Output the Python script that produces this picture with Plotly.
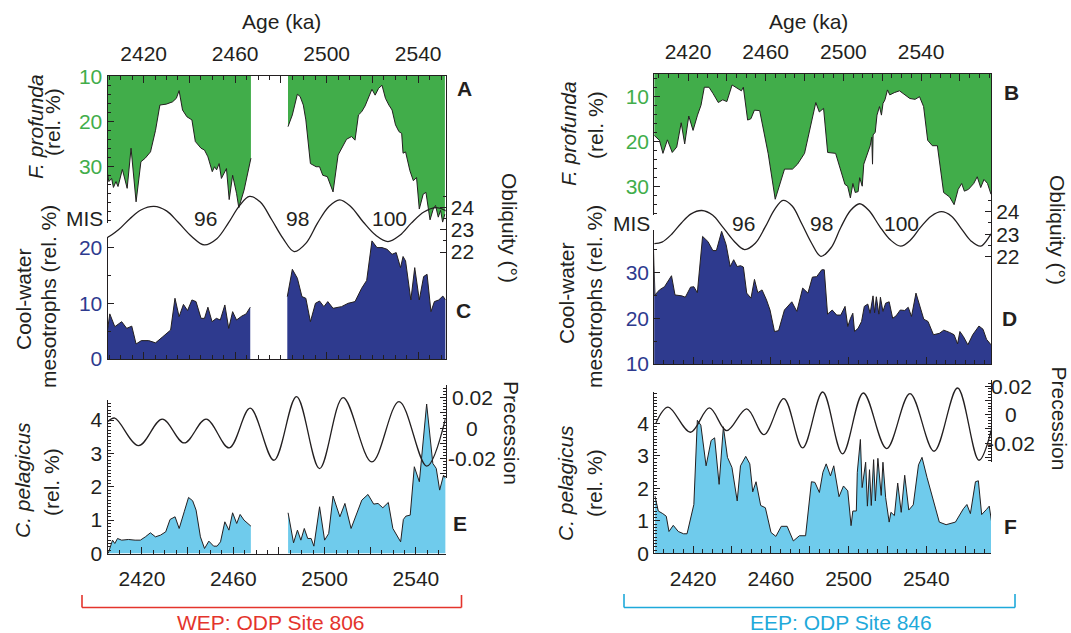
import plotly.graph_objects as go

W, H = 1071, 633
FONT = "Liberation Sans, Arial, Helvetica, sans-serif"
INK = "#231f20"
GREEN = "#41ad4a"
NAVY = "#2e3a8e"
SKY = "#6fcbec"
RED = "#e4342c"
CYAN = "#1ea9da"

# ---------------- data (ka, values) ----------------
age_labels = [2420, 2460, 2500, 2540]
age_major = [2400, 2420, 2440, 2460, 2480, 2500, 2520, 2540, 2560, 2580]

# WEP ODP 806 : F. profunda (rel. %)  (gap 2467-2483 ka)
wep_fp_age_1 = [2404.2, 2404.8, 2406.0, 2406.8, 2407.9, 2408.8, 2410.7, 2411.6, 2412.8, 2414.5,
                2416.7, 2418.8, 2420.7, 2423.0, 2425.2, 2427.1, 2429.9, 2432.6, 2434.3, 2435.5,
                2437.0, 2438.9, 2441.1, 2442.6, 2445.1, 2446.6, 2448.1, 2450.0, 2451.0, 2451.9,
                2453.0, 2454.0, 2455.0, 2456.2, 2457.4, 2458.9, 2460.6, 2461.6, 2463.9, 2465.8, 2466.9]
wep_fp_1 = [31.5, 33.3, 32.6, 34.6, 33.3, 34.4, 30.6, 32.2, 34.8, 25.9,
            37.8, 28.9, 28.1, 26.7, 21.9, 16.3, 16.1, 15.6, 14.8, 13.1,
            17.4, 18.9, 19.6, 24.4, 25.9, 26.3, 27.8, 31.1, 30.0, 30.7,
            29.3, 32.6, 31.5, 30.4, 37.3, 31.9, 35.9, 39.1, 35.2, 30.7, 28.1]
wep_fp_age_2 = [2483.1, 2485.0, 2487.2, 2488.4, 2489.8, 2490.9, 2492.9, 2495.4, 2496.9, 2498.3,
                2500.3, 2502.8, 2505.0, 2507.2, 2508.7, 2510.9, 2512.4, 2513.9, 2515.3, 2516.8,
                2518.3, 2519.8, 2521.2, 2522.7, 2524.2, 2525.7, 2527.2, 2528.6, 2530.1, 2531.6,
                2532.8, 2533.4, 2534.5, 2536.4, 2537.9, 2539.3, 2540.5, 2542.2, 2543.4, 2545.2,
                2546.6, 2547.6, 2548.8, 2549.8, 2550.7, 2551.7]
wep_fp_2 = [21.1, 18.5, 13.9, 14.4, 16.3, 19.6, 29.3, 30.0, 30.0, 31.9,
            32.2, 35.6, 27.4, 25.2, 23.9, 23.3, 24.1, 18.5, 17.8, 16.5,
            14.8, 12.8, 14.1, 12.6, 11.9, 14.8, 16.3, 17.4, 20.7, 22.2,
            22.6, 27.0, 26.7, 30.9, 33.1, 32.4, 39.4, 36.1, 35.7, 41.8,
            39.4, 38.6, 41.2, 39.7, 42.3, 40.5]

# WEP : cool-water mesotrophs (rel. %)
wep_cw_age_1 = [2404.2, 2405.2, 2407.4, 2410.4, 2412.6, 2414.8, 2416.7, 2419.0, 2422.2, 2425.2,
                2428.1, 2431.8, 2433.7, 2435.5, 2437.4, 2439.2, 2441.1, 2442.9, 2445.1, 2446.6,
                2448.1, 2449.9, 2451.8, 2453.5, 2455.5, 2457.2, 2458.9, 2460.6, 2462.9, 2464.8, 2466.6]
wep_cw_1 = [5.2, 8.1, 5.8, 6.7, 5.5, 5.9, 2.7, 3.3, 3.3, 2.9,
            3.9, 5.2, 10.9, 7.6, 9.8, 8.7, 10.6, 10.3, 7.3, 7.3,
            9.3, 6.7, 7.3, 7.0, 9.7, 5.5, 8.5, 7.0, 7.7, 8.1, 9.3]
wep_cw_age_2 = [2482.8, 2485.0, 2487.2, 2489.2, 2490.9, 2492.9, 2495.1, 2496.9, 2498.8, 2500.5,
                2502.8, 2506.5, 2509.4, 2512.4, 2515.3, 2517.5, 2519.8, 2522.0, 2524.2, 2526.4,
                2528.6, 2530.4, 2532.3, 2533.4, 2534.5, 2536.8, 2538.5, 2540.5, 2542.4, 2543.9,
                2545.6, 2547.1, 2549.0, 2550.8, 2552.0]
wep_cw_2 = [11.2, 16.1, 14.5, 11.2, 10.9, 6.7, 10.0, 10.4, 9.4, 10.3,
            9.1, 9.4, 10.0, 10.3, 12.7, 14.1, 21.2, 20.0, 20.0, 19.7,
            18.8, 19.1, 16.4, 18.4, 17.6, 10.6, 16.4, 10.6, 14.8, 15.2,
            8.5, 10.3, 10.6, 11.3, 10.6]

# WEP : C. pelagicus (rel. %)
wep_cp_age_1 = [2405.2, 2406.0, 2407.1, 2408.1, 2409.3, 2411.1, 2414.1, 2417.0, 2419.3, 2421.5,
                2423.7, 2425.9, 2428.1, 2430.4, 2432.3, 2434.5, 2436.3, 2438.5, 2440.4, 2442.2,
                2443.7, 2445.6, 2447.4, 2449.3, 2451.4, 2452.9, 2454.4, 2456.3, 2458.1, 2459.7,
                2461.5, 2463.0, 2464.7, 2467.7]
wep_cp_1 = [0.0, 0.2, 0.4, 0.3, 0.45, 0.4, 0.42, 0.4, 0.4, 0.5,
            0.62, 0.5, 0.55, 0.65, 1.02, 1.1, 0.75, 1.25, 1.68, 1.58,
            1.3, 0.5, 0.15, 0.37, 0.22, 0.22, 0.35, 0.95, 0.7, 1.22,
            0.9, 1.17, 1.0, 0.82]
wep_cp_age_2 = [2484.0, 2486.4, 2488.1, 2489.6, 2491.1, 2492.6, 2494.1, 2495.3, 2497.8, 2500.0,
                2501.8, 2503.7, 2506.7, 2508.9, 2511.6, 2513.6, 2516.3, 2519.0, 2521.5, 2523.4,
                2525.5, 2527.9, 2529.9, 2533.3, 2534.5, 2535.6, 2537.5, 2539.3, 2541.5, 2544.7,
                2547.4, 2548.9, 2550.4, 2552.1, 2553.0]
wep_cp_2 = [1.22, 0.32, 0.7, 0.4, 0.75, 0.45, 0.45, 0.22, 1.4, 0.4,
            0.6, 1.72, 1.1, 1.5, 0.75, 1.1, 1.6, 1.77, 1.48, 1.5,
            1.37, 1.53, 0.75, 0.35, 1.02, 1.12, 1.15, 2.6, 2.15, 4.48,
            2.7, 2.55, 1.9, 2.35, 2.25]

# EEP ODP 846 : F. profunda
eep_fp_age = [2402.6, 2403.6, 2405.3, 2407.1, 2409.4, 2411.9, 2414.2, 2416.5, 2418.3, 2420.4,
              2422.6, 2424.9, 2426.7, 2428.4, 2430.8, 2432.9, 2435.6, 2437.9, 2440.0, 2442.7,
              2445.0, 2447.5, 2448.5, 2450.7, 2452.4, 2454.2, 2456.9, 2461.3, 2464.9, 2466.7,
              2469.7, 2473.8, 2476.4, 2480.0, 2485.8, 2487.6, 2489.8, 2491.9, 2496.0, 2500.8,
              2502.2, 2503.6, 2504.9, 2506.1, 2507.6, 2508.4, 2509.7, 2510.5, 2512.0, 2513.8,
              2514.6, 2515.0, 2515.3, 2516.4, 2517.3, 2518.6, 2519.6, 2520.4, 2521.4, 2522.7,
              2523.9, 2526.2, 2528.9, 2531.6, 2534.2, 2536.9, 2539.2, 2541.3, 2543.4, 2545.8,
              2548.4, 2551.6, 2554.7, 2557.0, 2559.1, 2560.9, 2562.3, 2564.4, 2567.1, 2568.9,
              2570.7, 2572.4, 2574.2, 2576.0]
eep_fp = [18.6, 19.0, 19.7, 22.6, 19.6, 22.4, 21.2, 15.8, 20.5, 14.3,
          17.5, 14.1, 11.9, 7.9, 7.9, 9.3, 11.3, 10.7, 11.1, 7.4,
          8.1, 8.7, 7.9, 15.2, 14.9, 13.0, 13.1, 22.7, 32.8, 30.2,
          26.1, 26.1, 25.0, 22.6, 11.3, 13.4, 12.6, 22.4, 22.6, 29.5,
          29.9, 32.5, 29.3, 31.3, 31.1, 28.0, 29.9, 25.0, 23.1, 20.9,
          19.0, 25.0, 18.5, 17.9, 14.1, 12.2, 14.1, 11.5, 10.7, 8.5,
          9.6, 9.1, 8.7, 9.6, 10.4, 10.6, 10.0, 12.2, 19.7, 20.9,
          20.9, 31.3, 32.3, 34.0, 30.6, 29.3, 31.0, 30.6, 29.3, 27.8,
          30.2, 28.4, 29.3, 31.7]

# EEP : cool-water mesotrophs
eep_cw_age = [2399.6, 2400.4, 2402.7, 2405.3, 2408.9, 2410.7, 2414.2, 2416.0, 2418.7, 2420.4,
              2422.2, 2424.9, 2427.6, 2430.2, 2432.0, 2434.7, 2437.0, 2439.1, 2440.9, 2442.7,
              2444.4, 2445.9, 2447.6, 2449.8, 2451.6, 2453.3, 2455.5, 2457.8, 2459.6, 2461.9,
              2464.0, 2467.0, 2470.8, 2473.4, 2476.4, 2479.1, 2481.4, 2483.6, 2486.2, 2487.5,
              2489.2, 2491.6, 2493.9, 2496.0, 2498.2, 2499.6, 2501.0, 2502.2, 2503.1, 2504.9,
              2506.7, 2508.1, 2509.9, 2511.1, 2512.6, 2513.4, 2514.3, 2515.6, 2516.4, 2517.7,
              2519.1, 2520.9, 2522.7, 2524.4, 2526.6, 2528.9, 2530.7, 2532.4, 2534.7, 2536.9,
              2538.7, 2540.9, 2543.7, 2546.7, 2549.0, 2552.0, 2554.3, 2556.1, 2557.3, 2559.1,
              2561.4, 2563.9, 2567.1, 2569.2, 2571.0, 2573.3]
eep_cw = [35.7, 25.1, 26.2, 26.9, 29.3, 25.1, 24.9, 24.6, 26.8, 26.9,
          25.6, 37.9, 36.8, 34.8, 34.8, 39.0, 36.1, 31.3, 32.8, 31.3,
          31.5, 31.2, 25.5, 24.4, 28.5, 25.6, 26.2, 24.0, 21.8, 17.1,
          17.3, 21.8, 23.6, 21.5, 26.6, 25.5, 29.0, 29.1, 30.6, 30.6,
          20.9, 21.8, 20.7, 20.7, 22.6, 18.2, 20.0, 21.1, 17.1, 17.8,
          19.3, 22.6, 23.1, 21.1, 24.9, 21.2, 24.7, 20.9, 24.6, 21.5,
          23.3, 23.6, 20.0, 20.5, 21.8, 21.7, 22.4, 20.4, 25.5, 22.6,
          19.8, 19.3, 16.4, 16.7, 17.4, 16.9, 16.4, 14.4, 17.1, 16.0,
          14.2, 16.4, 18.3, 17.6, 15.4, 14.2]

# EEP : C. pelagicus
eep_cp_age = [2400.4, 2402.1, 2404.4, 2406.2, 2407.6, 2409.8, 2412.4, 2415.1, 2416.9, 2420.4,
              2422.2, 2424.0, 2426.7, 2429.3, 2431.1, 2433.4, 2435.6, 2437.7, 2440.0, 2442.7,
              2444.4, 2447.1, 2449.2, 2450.7, 2452.4, 2454.8, 2457.2, 2460.1, 2462.6, 2465.4,
              2468.4, 2471.6, 2474.7, 2477.9, 2480.9, 2482.7, 2485.0, 2486.8, 2488.5, 2490.7,
              2492.4, 2495.1, 2497.4, 2499.6, 2501.3, 2502.2, 2504.0, 2504.5, 2506.1, 2507.0,
              2508.8, 2509.7, 2510.8, 2511.7, 2512.9, 2513.8, 2515.1, 2516.8, 2517.7, 2519.1,
              2520.9, 2521.8, 2523.6, 2525.3, 2527.1, 2528.9, 2531.0, 2533.3, 2536.0, 2537.8,
              2540.4, 2543.1, 2546.7, 2550.2, 2555.0, 2559.1, 2560.9, 2562.7, 2565.3, 2566.8,
              2568.5, 2571.0, 2572.4, 2574.2]
eep_cp = [1.76, 1.30, 1.22, 1.14, 0.67, 0.86, 0.67, 0.60, 0.60, 1.50,
          4.09, 3.94, 2.69, 3.47, 3.55, 2.12, 3.89, 2.95, 2.64, 1.61,
          2.69, 2.98, 2.75, 1.89, 2.20, 1.47, 1.40, 0.64, 0.52, 0.83,
          0.83, 0.38, 0.54, 0.54, 2.20, 2.18, 1.87, 2.49, 2.75, 2.38,
          2.69, 1.74, 2.07, 1.92, 0.85, 1.30, 1.30, 2.49, 3.50, 2.02,
          2.80, 1.45, 2.57, 1.47, 2.88, 1.61, 2.92, 1.78, 2.80, 1.71,
          0.96, 1.26, 1.16, 2.16, 1.26, 2.40, 1.33, 1.49, 2.72, 2.95,
          2.33, 1.76, 0.96, 0.88, 0.96, 1.37, 1.50, 1.22, 2.20, 2.23,
          1.19, 1.35, 1.45, 0.73]

# Orbital obliquity (degrees)
obl_age = [2400.0, 2404.0, 2409.0, 2414.0, 2419.0, 2424.5, 2430.0, 2435.0, 2441.0, 2446.5,
           2452.0, 2457.0, 2462.0, 2466.3, 2471.0, 2476.0, 2481.0, 2485.8, 2491.0, 2496.0,
           2501.0, 2505.7, 2510.5, 2516.0, 2521.5, 2526.8, 2532.0, 2537.0, 2542.5, 2547.8,
           2553.0, 2558.0, 2563.0, 2568.0, 2573.3, 2576.0]
obl = [22.58, 22.65, 23.0, 23.5, 23.9, 24.05, 23.85, 23.35, 22.7, 22.32,
       22.6, 23.3, 24.1, 24.5, 24.25, 23.45, 22.6, 22.02, 22.4, 23.3,
       24.05, 24.35, 24.05, 23.35, 22.75, 22.47, 22.75, 23.3, 23.8, 24.0,
       23.8, 23.25, 22.7, 22.47, 23.0, 23.3]

# Precession index (as drawn in each column)
wep_prec_age = [2405.2, 2408.1, 2418.5, 2428.9, 2438.5, 2448.1, 2458.2, 2467.4, 2477.8, 2487.7,
                2497.8, 2508.1, 2520.7, 2532.6, 2544.7, 2553.0]
wep_prec = [0.0044, 0.0066, -0.0116, 0.0059, -0.0098, 0.0059, -0.0131, 0.0131, -0.0212, 0.0208,
            -0.0267, 0.0201, -0.0223, 0.0175, -0.0251, 0.0066]
eep_prec_age = [2400.9, 2407.1, 2418.7, 2428.4, 2437.3, 2447.6, 2456.5, 2466.7, 2476.4, 2486.7,
                2496.9, 2507.6, 2519.6, 2531.6, 2544.0, 2556.1, 2567.1, 2574.2]
eep_prec = [-0.0058, 0.0053, -0.0123, 0.0047, -0.0112, 0.004, -0.014, 0.0112, -0.0233, 0.0158,
            -0.0274, 0.0151, -0.0237, 0.0147, -0.0256, 0.0186, -0.0319, -0.007]

obl_ticks = [22, 23, 24]
prec_ticks = [0.02, 0, -0.02]
prec_ticktext = ["0.02", "0", "-0.02"]
mis_labels = ["96", "98", "100"]

# ---------------- geometry helpers (pixel -> paper) ----------------
def xdom(a, b):
    return [a / W, b / W]

def ydom(top, bottom):
    return [1 - bottom / H, 1 - top / H]

def px(x):
    return x / W

def py(y):
    return 1 - y / H

LX = (107.5, 445.6)
RX = (654.2, 991.0)
L_TOP = [2404.2, 2552.0]
L_BOT = [2404.9, 2553.0]
R_TOP = [2402.6, 2576.0]
R_BOT = [2400.0, 2573.3]

fig = go.Figure()

def area(x, y, xa, ya, fill):
    fig.add_trace(go.Scatter(x=x, y=y, xaxis=xa, yaxis=ya, mode="lines",
                             line=dict(color=INK, width=1), fill="tozeroy",
                             fillcolor=fill, hoverinfo="skip"))

def curve(x, y, xa, ya):
    fig.add_trace(go.Scatter(x=x, y=y, xaxis=xa, yaxis=ya, mode="lines",
                             line=dict(color=INK, width=1.3, shape="spline", smoothing=1.0),
                             hoverinfo="skip"))

area(wep_fp_age_1, wep_fp_1, "x", "y", GREEN)
area(wep_fp_age_2, wep_fp_2, "x", "y", GREEN)
area(eep_fp_age, eep_fp, "x2", "y2", GREEN)
area(wep_cw_age_1, wep_cw_1, "x3", "y3", NAVY)
area(wep_cw_age_2, wep_cw_2, "x3", "y3", NAVY)
area(eep_cw_age, eep_cw, "x4", "y4", NAVY)
area(wep_cp_age_1, wep_cp_1, "x5", "y5", SKY)
area(wep_cp_age_2, wep_cp_2, "x5", "y5", SKY)
area(eep_cp_age, eep_cp, "x6", "y6", SKY)
curve(obl_age, obl, "x7", "y7")
curve(obl_age, obl, "x8", "y8")
curve(wep_prec_age, wep_prec, "x9", "y9")
curve(eep_prec_age, eep_prec, "x10", "y10")

common = dict(showgrid=False, zeroline=False, linecolor=INK, linewidth=1,
              tickcolor=INK, tickwidth=1, ticks="inside", fixedrange=True,
              automargin=False)
ticktext = [str(v) if v in age_labels else "" for v in age_major]

def xax(dom, rng, anchor, side="bottom", labels=False, visible=True):
    return dict(common, domain=xdom(*dom), range=rng, anchor=anchor, side=side,
                visible=visible, showline=True, tickmode="array", tickvals=age_major,
                ticktext=ticktext, showticklabels=labels, ticklen=7,
                ticklabelstandoff=6,
                tickfont=dict(size=21, color=INK),
                minor=dict(dtick=5, tick0=2400, ticks="inside", ticklen=4,
                           tickcolor=INK, showgrid=False))

def yax(dom, rng, anchor, tickvals, color, minor, mirror=False, side="left",
        labels=True, free=None, dtick=None):
    d = dict(common, domain=ydom(*dom), range=rng, side=side, showline=True,
             mirror=mirror, ticklen=6, showticklabels=labels,
             tickfont=dict(size=21, color=color),
             minor=dict(dtick=minor, ticks="inside", ticklen=3, tickcolor=INK, showgrid=False))
    if tickvals is not None:
        d.update(tickmode="array", tickvals=tickvals)
    else:
        d.update(dtick=dtick, tick0=0)
    if free is not None:
        d.update(anchor="free", position=free)
    else:
        d.update(anchor=anchor)
    return d

layout = dict(
    width=W, height=H, autosize=False,
    margin=dict(l=0, r=0, t=0, b=0, pad=0, autoexpand=False),
    paper_bgcolor="white", plot_bgcolor="rgba(0,0,0,0)", showlegend=False,
    font=dict(family=FONT, size=21, color=INK),
    xaxis=xax(LX, L_TOP, "y", side="top", labels=True),
    yaxis=yax((76, 223), [42.5, 9.85], "x", [10, 20, 30], GREEN, 2, mirror=True),
    xaxis2=xax(RX, R_TOP, "y2", side="top", labels=True),
    yaxis2=yax((74, 215), [36.3, 4.96], "x2", [10, 20, 30], GREEN, 2, mirror=True),
    xaxis3=xax(LX, L_TOP, "y3"),
    yaxis3=yax((237, 359), [0, 21.9], "x3", [0, 10, 20], NAVY, 5, mirror=True),
    xaxis4=xax(RX, R_BOT, "y4"),
    yaxis4=yax((230, 364), [10, 39.3], "x4", [10, 20, 30], NAVY, 5, mirror=True),
    xaxis5=xax(LX, L_BOT, "y5", labels=True),
    yaxis5=yax((400, 553.5), [0, 4.6], "x5", [0, 1, 2, 3, 4], INK, 0.1),
    xaxis6=xax(RX, R_BOT, "y6", labels=True),
    yaxis6=yax((392.3, 553.3), [0, 4.95], "x6", [0, 1, 2, 3, 4], INK, 0.1),
    xaxis7=xax(LX, L_TOP, "y7", visible=False),
    yaxis7=yax((188, 262), [21.55, 24.88], None, obl_ticks, INK, 0.5, side="right",
               free=px(LX[1])),
    xaxis8=xax(RX, R_BOT, "y8", visible=False),
    yaxis8=yax((190, 266), [21.59, 24.96], None, obl_ticks, INK, 0.5, side="right",
               free=px(RX[1])),
    xaxis9=xax(LX, L_BOT, "y9", visible=False),
    yaxis9=yax((385, 478.3), [-0.0331, 0.0284], None, None, INK, 0.002, side="right",
               labels=False, free=px(LX[1]), dtick=0.01),
    xaxis10=xax(RX, R_BOT, "y10", visible=False),
    yaxis10=yax((380, 461.7), [-0.0329, 0.0242], None, None, INK, 0.002, side="right",
                labels=False, free=px(RX[1]), dtick=0.01),
)

anns = []

def ann(text, x, y, size=21, color=INK, angle=0, xanchor="center", yanchor="middle"):
    anns.append(dict(text=text, x=px(x), y=py(y), xref="paper", yref="paper",
                     showarrow=False, textangle=angle, xanchor=xanchor, yanchor=yanchor,
                     font=dict(family=FONT, size=size, color=color)))

ann("Age (ka)", 281, 22)
ann("<i>F. profunda</i>", 35, 127, angle=-90)
ann("(rel. %)", 52, 122, angle=-90)
ann("Cool-water", 23, 299, angle=-90)
ann("mesotrophs (rel. %)", 48, 297, angle=-90)
ann("<i>C. pelagicus</i>", 23, 480, angle=-90)
ann("(rel. %)", 51, 482, angle=-90)
ann("MIS", 84.5, 218)
for t, xx in zip(mis_labels, [205, 297.5, 389]):
    ann(t, xx, 218)
ann("<b>A</b>", 464, 88)
ann("<b>C</b>", 463, 311)
ann("<b>E</b>", 460, 523)
ann("Obliquity (°)", 509, 228, angle=90)
ann("Precession", 512, 433, angle=90)
ann("WEP: ODP Site 806", 270.5, 622, color=RED)

ann("Age (ka)", 808.5, 22)
ann("<i>F. profunda</i>", 568, 134, angle=-90)
ann("(rel. %)", 595, 125, angle=-90)
ann("Cool-water", 566, 293, angle=-90)
ann("mesotrophs (rel. %)", 594, 297, angle=-90)
ann("<i>C. pelagicus</i>", 565, 483, angle=-90)
ann("(rel. %)", 594, 483, angle=-90)
ann("MIS", 631, 223.5)
for t, xx in zip(mis_labels, [743, 821, 901.5]):
    ann(t, xx, 223.5)
ann("<b>B</b>", 1011, 93)
ann("<b>D</b>", 1009, 318)
ann("<b>F</b>", 1010, 526)
ann("Obliquity (°)", 1058, 230, angle=90)
ann("Precession", 1059.5, 418, angle=90)
ann("EEP: ODP Site 846", 840.6, 622, color=CYAN)

for v, t in zip(prec_ticks, prec_ticktext):
    anns.append(dict(text=t, x=px(472), y=v, xref="paper", yref="y9", showarrow=False,
                     xanchor="center", yanchor="middle", font=dict(family=FONT, size=21, color=INK)))
    anns.append(dict(text=t, x=px(1011), y=v, xref="paper", yref="y10", showarrow=False,
                     xanchor="center", yanchor="middle", font=dict(family=FONT, size=21, color=INK)))

layout["annotations"] = anns

def bracket(x0, x1, ytop, ybot, color):
    return [
        dict(type="line", xref="paper", yref="paper", x0=px(x0), x1=px(x0), y0=py(ytop), y1=py(ybot),
             line=dict(color=color, width=1.6)),
        dict(type="line", xref="paper", yref="paper", x0=px(x0), x1=px(x1), y0=py(ybot), y1=py(ybot),
             line=dict(color=color, width=1.6)),
        dict(type="line", xref="paper", yref="paper", x0=px(x1), x1=px(x1), y0=py(ytop), y1=py(ybot),
             line=dict(color=color, width=1.6)),
    ]

layout["shapes"] = bracket(82, 461.5, 595, 607.5, RED) + bracket(624, 1015, 594, 607.5, CYAN)

fig.update_layout(**layout)
fig.write_html("out.html")
